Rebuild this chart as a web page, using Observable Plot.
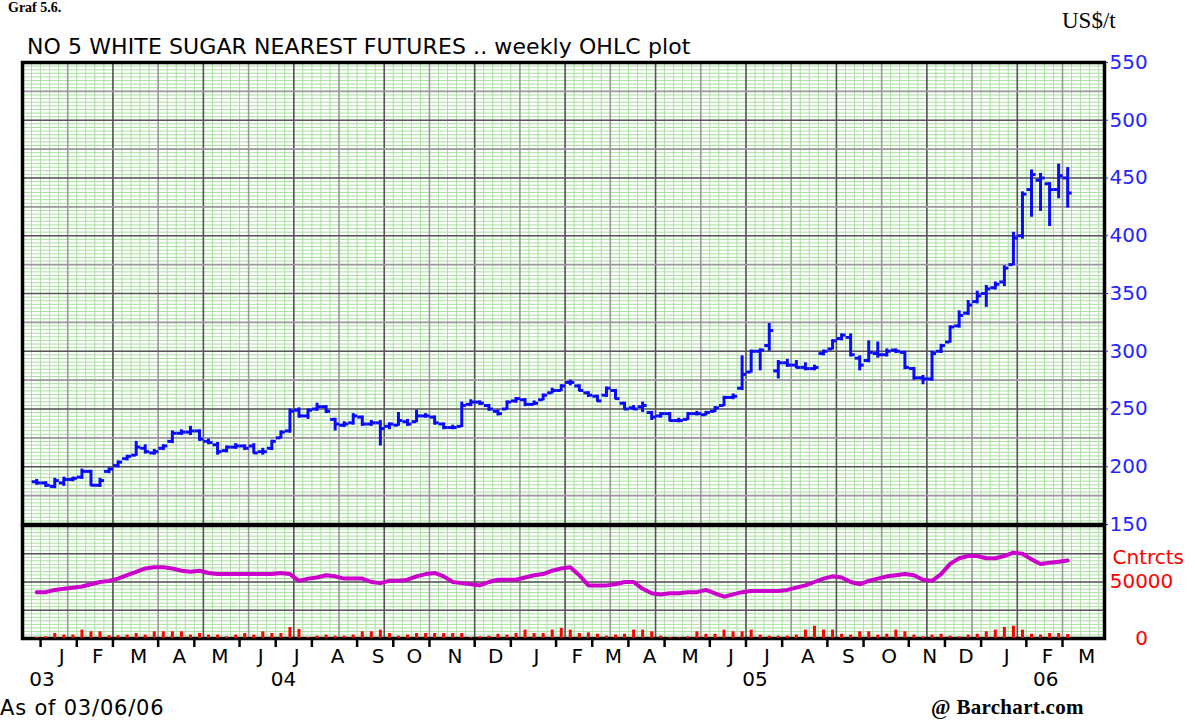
<!DOCTYPE html>
<html>
<head>
<meta charset="utf-8">
<script src="https://cdn.jsdelivr.net/npm/d3@7"></script>
<script src="https://cdn.jsdelivr.net/npm/@observablehq/plot@0.6"></script>
<style>
  html, body { margin: 0; padding: 0; background: white; }
  #wrap { position: relative; width: 1195px; height: 722px; overflow: hidden; background: white; }
  .lbl { position: absolute; white-space: nowrap; z-index: 5; line-height: 1.2; }
  #graf { left: 8px; top: 0px; font: bold 14px "Liberation Serif", serif; }
  #unit { left: 1062px; top: 8px; font: 23px "Liberation Serif", serif; }
  #title { left: 27px; top: 34px; font: 22px "DejaVu Sans", sans-serif; letter-spacing: 0.1px; }
  #asof { left: 0px; top: 696px; font: 21px "DejaVu Sans", sans-serif; letter-spacing: 0.8px; }
  #bc { left: 931px; top: 695px; font: bold 21px "Liberation Serif", serif; letter-spacing: 0.3px; }
  #price, #vol { position: absolute; left: 0; }
  #price { top: 0; }
  #vol { top: 524px; }
</style>
</head>
<body>
<div id="wrap">
  <div id="price"></div>
  <div id="vol"></div>
  <div class="lbl" id="graf">Graf 5.6.</div>
  <div class="lbl" id="unit">US$/t</div>
  <div class="lbl" id="title">NO 5 WHITE SUGAR NEAREST FUTURES .. weekly OHLC plot</div>
  <div class="lbl" id="asof">As of 03/06/06</div>
  <div class="lbl" id="bc">@ Barchart.com</div>
</div>
<script>
// ---------- DATA (weekly bars, first week starting Mon 2003-12-29) ----------
const firstWeek = "2003-12-29";
const opens  = [187,186,183,186,189,191,196,184,196,201,207,210,216,212,216,222,229,230,231,222,219,214,217,218,218,213,216,225,231,249,244,250,252,241,236,238,243,237,238,235,236,239,239,244,243,237,234,235,254,256,253,248,250,257,258,254,258,264,266,273,270,264,261,262,266,255,251,252,247,244,246,240,241,246,245,248,253,260,268,282,300,305,283,290,288,286,285,298,302,311,312,294,292,298,297,301,299,285,277,276,300,308,322,333,343,350,355,360,375,400,440,448,445,440,450];
const highs  = [189,187,190,191,191,198,197,190,199,205,210,222,219,215,219,231,232,235,232,224,221,218,220,219,220,216,223,231,250,251,250,255,253,242,239,246,244,240,240,238,247,241,249,246,244,238,236,256,258,257,254,249,257,260,259,257,263,268,271,275,271,265,262,269,267,256,253,256,248,247,247,242,247,248,248,252,261,263,296,301,302,324,292,293,292,290,288,301,310,315,315,296,309,308,302,302,300,286,279,300,306,322,335,344,352,357,360,374,403,438,457,454,446,462,459];
const lows   = [184,182,181,183,187,189,183,182,194,199,205,209,211,210,214,220,227,227,222,219,210,212,215,214,211,210,214,224,229,242,241,248,246,231,234,236,235,235,218,232,235,235,238,242,236,232,232,234,252,253,248,244,249,255,252,253,257,263,265,270,265,260,256,260,258,249,249,247,240,242,239,238,240,244,244,247,252,258,266,281,283,300,276,286,285,283,283,296,301,309,295,283,290,294,295,298,284,275,271,274,298,307,320,331,341,338,353,356,374,397,416,421,408,432,424];
const closes = [186,184,188,189,190,196,184,188,198,204,209,217,213,213,218,229,230,231,224,221,213,217,218,216,212,213,222,230,248,244,249,252,248,237,237,244,237,238,233,237,240,237,244,244,238,234,234,253,256,255,250,246,256,259,254,255,262,266,270,273,266,262,257,268,259,250,250,253,243,246,240,240,246,246,247,251,260,261,280,300,301,318,290,288,286,285,286,300,309,314,297,288,299,297,300,300,286,277,276,298,305,321,331,340,348,354,358,372,398,436,453,450,440,452,437];
// weekly volume, thousands of contracts
const volumes = [0.9,1.5,4.4,3.0,3.0,7.4,5.9,5.9,2.4,2.4,3.0,4.4,3.0,5.9,5.9,5.9,5.9,3.0,4.4,3.0,3.0,1.5,3.0,4.4,3.0,5.9,4.4,4.4,9.7,8.0,0.9,2.1,3.0,2.1,2.1,3.0,5.9,5.9,7.4,4.4,2.1,3.0,4.4,4.4,4.4,4.4,4.4,4.4,0.9,1.5,2.1,3.8,3.0,4.4,7.4,4.4,4.4,7.4,8.9,7.4,4.4,5.0,3.8,
  2.1,3.0,3.8,7.4,7.4,5.9,2.1,0.9,0.6,1.5,5.9,3.8,3.8,7.4,5.9,5.9,7.4,3.0,2.1,2.1,2.1,3.0,7.4,10.9,7.4,7.4,3.8,3.0,5.9,5.9,3.0,3.8,7.4,5.9,3.0,1.5,3.0,3.8,2.1,1.5,3.0,3.8,5.9,7.4,9.7,10.9,7.4,3.8,3.0,4.4,4.4,3.5];
// weekly open interest, thousands of contracts
const openInterest = [41,41,43,44,45,46,48,50,51,53,56,59,62,63,63,62,60,59,60,58,57,57,57,57,57,57,57,58,57,51,53,54,56,55,53,53,53,50,49,51,51,52,55,57,58,55,50,49,48,47,50,52,52,52,54,56,57,60,62,63,56,47,47,47,48,50,50,44,40,39,40,40,41,41,43,40,37,39,41,42,42,42,42,43,45,47,50,53,55,54,50,48,51,53,55,56,57,56,52,51,57,66,71,73,73,71,71,73,76,75,70,66,67,68,69];

const monthLabels = ["J","F","M","A","M","J","J","A","S","O","N","D","J","F","M","A","M","J","J","A","S","O","N","D","J","F","M"];
const monthStartYear = 2004;
const yearLabels = ["03","04","05","06"];
const yearLabelDates = ["2004-01-06","2004-07-11","2005-07-11","2006-02-21"];
const priceTicks = [150,200,250,300,350,400,450,500,550];
const priceMajorGrid = [175,200,225,250,275,300,325,350,375,400,425,450,475,500,525];
const volMajorGrid = [25000,50000,75000];
const volLabels = [{v: 0, t: "0"}, {v: 50000, t: "50000"}];

// ---------- BUILD ----------
const DAY = 864e5;
const t0 = Date.parse(firstWeek);
const bars = opens.map((o, i) => ({
  date: new Date(t0 + (7 * i + 4) * DAY),
  open: o, high: highs[i], low: lows[i], close: closes[i],
  vol: volumes[i] * 1000, oi: openInterest[i] * 1000
}));
const xDomain = [new Date(Date.UTC(2003, 11, 22)), new Date(Date.UTC(2006, 3, 7, 12))];

function firstMonday(y, m) {
  return d3.utcMonday.ceil(new Date(Date.UTC(y, m, 1)));
}
const monthTicks = monthLabels.map((_, k) => firstMonday(monthStartYear + Math.floor(k / 12), k % 12));
const monthEnd = [...monthTicks.slice(1), xDomain[1]];
const monthData = monthLabels.map((l, k) => ({label: l, mid: new Date((+monthTicks[k] + +monthEnd[k]) / 2)}));
const yearData = yearLabels.map((l, k) => ({label: l, date: new Date(yearLabelDates[k])}));

const minorV = d3.utcMonday.range(xDomain[0], xDomain[1]).slice(1);
const majorV = d3.range(1, 24).map(k => new Date(+xDomain[0] + 35 * k * DAY));
const majorVdark = majorV.filter((_, k) => k % 2 === 1);
const majorVlight = majorV.filter((_, k) => k % 2 === 0);
const minorHprice = d3.range(1, 128).map(k => 150 + k * 3.125);
const minorHvol = d3.range(1, 32).map(k => k * 3125);

const GREEN = "#a9dfa0", GRAYL = "#9a9a9a", GRAYD = "#555555";
const BLUE = "#0a0aff", LBLUE = "#2424ff", RED = "#ff0000", MAG = "#cc00cc";
const FONT = "DejaVu Sans";

const price = Plot.plot({
  width: 1195, height: 525,
  marginTop: 62, marginBottom: 1, marginLeft: 22, marginRight: 91,
  style: {background: "transparent", overflow: "visible", fontFamily: FONT},
  x: {type: "utc", domain: xDomain, axis: null},
  y: {domain: [150, 550]},
  marks: [
    Plot.ruleY(minorHprice, {stroke: GREEN, strokeWidth: 1}),
    Plot.ruleX(minorV, {stroke: GREEN, strokeWidth: 1}),
    Plot.ruleX(majorVlight, {stroke: GRAYL, strokeWidth: 1.6}),
    Plot.ruleX(majorVdark, {stroke: GRAYD, strokeWidth: 1.6}),
    Plot.ruleY(priceMajorGrid.filter(v => v % 50 !== 0), {stroke: GRAYL, strokeWidth: 1.6}),
    Plot.ruleY(priceMajorGrid.filter(v => v % 50 === 0), {stroke: GRAYD, strokeWidth: 1.6}),
    Plot.ruleX(bars, {x: "date", y1: "low", y2: "high", stroke: BLUE, strokeWidth: 3}),
    Plot.ruleY(bars, {y: "open", x1: d => new Date(+d.date - 3.5 * DAY), x2: "date", stroke: BLUE, strokeWidth: 3}),
    Plot.ruleY(bars, {y: "close", x1: "date", x2: d => new Date(+d.date + 3.5 * DAY), stroke: BLUE, strokeWidth: 3}),
    Plot.frame({stroke: "black", strokeWidth: 3.5}),
    Plot.axisY(priceTicks, {anchor: "right", tickSize: 3, tickPadding: 2, label: null, color: LBLUE, fontSize: 20})
  ]
});
document.getElementById("price").appendChild(price);

const vol = Plot.plot({
  width: 1195, height: 198,
  marginTop: 1, marginBottom: 84, marginLeft: 22, marginRight: 91,
  style: {background: "transparent", overflow: "visible", fontFamily: FONT},
  x: {type: "utc", domain: xDomain},
  y: {domain: [0, 100000], axis: null},
  marks: [
    Plot.ruleY(minorHvol, {stroke: GREEN, strokeWidth: 1}),
    Plot.ruleX(minorV, {stroke: GREEN, strokeWidth: 1}),
    Plot.ruleX(majorVlight, {stroke: GRAYL, strokeWidth: 1.6}),
    Plot.ruleX(majorVdark, {stroke: GRAYD, strokeWidth: 1.6}),
    Plot.ruleY(volMajorGrid, {stroke: GRAYD, strokeWidth: 1.6}),
    Plot.frame({stroke: "black", strokeWidth: 3.5}),
    Plot.ruleX(bars, {x: "date", y1: 0, y2: "vol", stroke: RED, strokeWidth: 3}),
    Plot.line(bars, {x: "date", y: "oi", stroke: MAG, strokeWidth: 4}),
    Plot.axisX(monthTicks, {anchor: "bottom", tickSize: 9, tickFormat: () => "", strokeWidth: 2.5, color: "black", label: null}),
    Plot.text(monthData, {x: "mid", text: "label", frameAnchor: "bottom", dx: 3, dy: 24, fontSize: 20, fill: "black"}),
    Plot.text(yearData, {x: "date", text: "label", frameAnchor: "bottom", dy: 47, fontSize: 20, fill: "black"}),
    Plot.text(volLabels, {y: "v", text: "t", frameAnchor: "right", textAnchor: "middle", dx: 37, fontSize: 20, fill: RED}),
    Plot.text([{v: 50000, t: "Cntrcts"}], {y: "v", text: "t", frameAnchor: "right", dx: 8, dy: -24, textAnchor: "start", fontSize: 20, fill: RED})
  ]
});
document.getElementById("vol").appendChild(vol);
</script>
</body>
</html>
